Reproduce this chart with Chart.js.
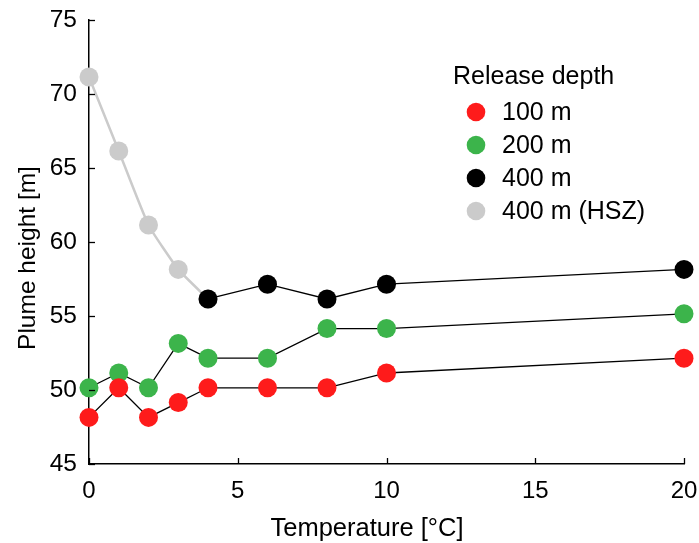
<!DOCTYPE html>
<html>
<head>
<meta charset="utf-8">
<script src="https://cdn.jsdelivr.net/npm/chart.js@4.4.1/dist/chart.umd.min.js"></script>
<style>
  html, body { margin: 0; padding: 0; background: #fff; }
  #wrap { width: 699px; height: 543px; }
</style>
</head>
<body>
<div id="wrap"><canvas id="grafica" width="699" height="543"></canvas></div>
<script>
// Datos
const temps = [0, 1, 2, 3, 4, 6, 8, 10, 20];
const altura100 = [48.15, 50.15, 48.15, 49.15, 50.15, 50.15, 50.15, 51.15, 52.15];
const altura200 = [50.15, 51.15, 50.15, 53.15, 52.15, 52.15, 54.15, 54.15, 55.15];
const temps400 = [4, 6, 8, 10, 20];
const altura400 = [56.15, 57.15, 56.15, 57.15, 58.15];
const tempsHsz = [0, 1, 2, 3, 4];
const alturaHsz = [71.15, 66.15, 61.15, 58.15, 56.15];
const etiquetas = ['100 m', '200 m', '400 m', '400 m (HSZ)'];
const xTicks = [0, 5, 10, 15, 20];
const yTicks = [45, 50, 55, 60, 65, 70, 75];
const tituloX = 'Temperature [°C]';
const tituloY = 'Plume height [m]';
const tituloLeyenda = 'Release depth';

const FUENTE = "'Liberation Sans', Arial, Helvetica, sans-serif";

const puntos = (xs, ys) => xs.map((x, i) => ({ x: x, y: ys[i] }));

// Ticks hacia adentro, títulos de ejes y leyenda dentro del área
const extras = {
    id: 'extras',
    afterDraw(chart) {
        const ctx = chart.ctx;
        const { x, y } = chart.scales;
        const area = chart.chartArea;
        ctx.save();
        ctx.strokeStyle = '#000';
        ctx.lineWidth = 1.3;
        xTicks.forEach(v => {
            const px = Math.round(x.getPixelForValue(v)) + 0.5;
            ctx.beginPath();
            ctx.moveTo(px, area.bottom);
            ctx.lineTo(px, area.bottom - 6);
            ctx.stroke();
        });
        yTicks.forEach(v => {
            const py = Math.round(y.getPixelForValue(v)) + 0.5;
            ctx.beginPath();
            ctx.moveTo(area.left, py);
            ctx.lineTo(area.left + 6, py);
            ctx.stroke();
        });

        ctx.fillStyle = '#000';
        ctx.textBaseline = 'middle';
        ctx.textAlign = 'center';
        ctx.font = '25.5px ' + FUENTE;
        // Título eje x
        ctx.fillText(tituloX, 367, 529);
        // Título eje y
        ctx.font = '24.5px ' + FUENTE;
        ctx.save();
        ctx.translate(28, 258);
        ctx.rotate(-Math.PI / 2);
        ctx.fillText(tituloY, 0, 0);
        ctx.restore();

        // Leyenda
        ctx.font = '25px ' + FUENTE;
        ctx.textAlign = 'left';
        ctx.fillText(tituloLeyenda, 453, 77);
        chart.data.datasets.forEach((ds, i) => {
            const cy = 112 + i * 33;
            ctx.beginPath();
            ctx.arc(476, cy, 9.3, 0, Math.PI * 2);
            ctx.fillStyle = ds.pointBackgroundColor;
            ctx.fill();
            ctx.fillStyle = '#000';
            ctx.fillText(ds.label, 502, cy + 1);
        });
        ctx.restore();
    }
};

const base = {
    showLine: true,
    borderColor: '#000',
    borderWidth: 1.3,
    pointRadius: 9.5,
    pointHoverRadius: 9.5,
    pointBorderWidth: 0,
    clip: false,
    tension: 0
};

new Chart(document.getElementById('grafica').getContext('2d'), {
    type: 'scatter',
    data: {
        datasets: [
            { ...base, label: etiquetas[0], data: puntos(temps, altura100),
              pointBackgroundColor: '#fe1b1b', pointBorderColor: '#fe1b1b' },
            { ...base, label: etiquetas[1], data: puntos(temps, altura200),
              pointBackgroundColor: '#3cb44b', pointBorderColor: '#3cb44b' },
            { ...base, label: etiquetas[2], data: puntos(temps400, altura400),
              pointBackgroundColor: '#000000', pointBorderColor: '#000000' },
            { ...base, label: etiquetas[3], data: puntos(tempsHsz, alturaHsz),
              pointBackgroundColor: '#cbcbcb', pointBorderColor: '#cbcbcb',
              borderColor: '#cbcbcb', borderWidth: 2.5, tension: 0.15 }
        ]
    },
    options: {
        responsive: false,
        animation: false,
        events: [],
        layout: { padding: { left: 0, right: 15, top: 20, bottom: 0 } },
        plugins: {
            legend: { display: false },
            tooltip: { enabled: false }
        },
        scales: {
            x: {
                type: 'linear',
                min: 0, max: 20,
                afterFit: s => { s.height = 79; s.paddingLeft = 0; s.paddingRight = 0; },
                afterBuildTicks: s => { s.ticks = xTicks.map(v => ({ value: v })); },
                grid: { display: false, drawTicks: false },
                border: { display: true, color: '#000', width: 1.5 },
                ticks: { color: '#000', padding: 13, maxRotation: 0,
                         font: { family: FUENTE, size: 24 } },
                title: { display: false }
            },
            y: {
                type: 'linear',
                min: 45, max: 75,
                afterFit: s => { s.width = 89; s.paddingTop = 0; s.paddingBottom = 0; },
                afterBuildTicks: s => { s.ticks = yTicks.map(v => ({ value: v })); },
                grid: { display: false, drawTicks: false },
                border: { display: true, color: '#000', width: 1.5 },
                ticks: { color: '#000', padding: 12,
                         font: { family: FUENTE, size: 24.5 } },
                title: { display: false }
            }
        }
    },
    plugins: [extras]
});
</script>
</body>
</html>
